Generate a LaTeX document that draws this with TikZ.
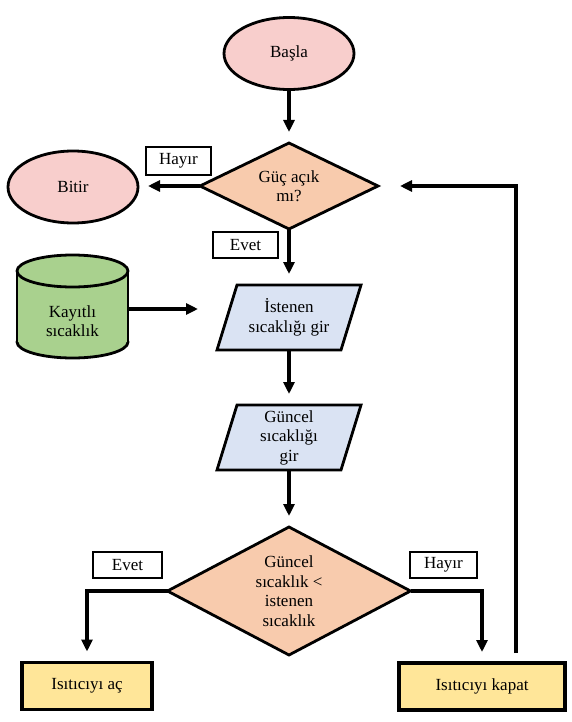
\documentclass[tikz,border=0pt]{standalone}
\usepackage{fontspec}
\setmainfont{Liberation Serif}
\usetikzlibrary{shapes.geometric,arrows.meta,calc}
\definecolor{termpink}{HTML}{F8CECC}
\definecolor{decorange}{HTML}{F8CBAD}
\definecolor{ioblue}{HTML}{DAE3F3}
\definecolor{cylgreen}{HTML}{A9D18E}
\definecolor{procyellow}{HTML}{FFE699}
\begin{document}
\begin{tikzpicture}[x=1pt,y=-1pt,
  every node/.style={font=\fontsize{17}{19.5}\selectfont, align=center, inner sep=0pt, outer sep=0pt},
  term/.style={ellipse, draw, line width=2.8pt, fill=termpink, minimum width=130pt, minimum height=72pt},
  dec/.style={diamond, draw, line width=2.8pt, fill=decorange},
  iobox/.style={minimum width=144pt, minimum height=65pt},
  iofill/.style={draw, line width=2.8pt, fill=ioblue, line join=miter},
  proc/.style={rectangle, draw, line width=3.5pt, fill=procyellow, minimum height=47pt},
  lbl/.style={rectangle, draw, line width=2.8pt, fill=white, minimum height=26pt},
  conn/.style={line width=3.8pt, -{Triangle[length=12pt,width=11pt]}, shorten >=11pt},
  cylshape/.style={line width=2.8pt},
]
\useasboundingbox (0,0) rectangle (572,722);

% terminals and decisions
\node[term] (start) at (289,53.5) {Başla};
\node[dec, aspect=2.07, minimum width=178pt, minimum height=86pt] (d1) at (289,186) {Güç açık\\mı?};
\node[term] (end) at (73,187) {Bitir};

% parallelograms
\node[iobox] (p1) at (289,317.5) {};
\path[iofill] ($(p1.north west)+(20,0)$) -- (p1.north east) -- ($(p1.south east)-(20,0)$) -- (p1.south west) -- cycle;
\node (p1t) at (p1.center) {İstenen\\sıcaklığı gir};
\node[iobox] (p2) at (289,437.5) {};
\path[iofill] ($(p2.north west)+(20,0)$) -- (p2.north east) -- ($(p2.south east)-(20,0)$) -- (p2.south west) -- cycle;
\node (p2t) at (p2.center) {Güncel\\sıcaklığı\\gir};

% cylinder
\filldraw[cylshape, fill=cylgreen] (72.5,342) ellipse (55.5 and 16);
\fill[cylgreen] (17,271) rectangle (128,342);
\draw[cylshape] (17,271) -- (17,342);
\draw[cylshape] (128,271) -- (128,342);
\filldraw[cylshape, fill=cylgreen] (72.5,271) ellipse (55.5 and 16);
\node[minimum width=111pt, minimum height=40pt] (cyl) at (72.5,309) {};
\node (cylt) at (72.5,321) {Kayıtlı\\sıcaklık};
\coordinate (cylin) at (198,309);

% second decision and processes
\node[dec, aspect=1.9, minimum width=243pt, minimum height=128pt] (d2) at (289,591) {Güncel\\sıcaklık <\\istenen\\sıcaklık};
\node[proc, minimum width=130pt] (on) at (87,686) {Isıtıcıyı aç};
\node[proc, minimum width=166pt] (off) at (482,686.5) {Isıtıcıyı kapat};

% connectors
\draw[conn] (start.south) -- (d1.north);
\draw[conn, shorten >=10pt] (d1.west) -- (d1.west -| end.east);
\draw[conn] (d1.south) -- (p1.north);
\draw[conn, shorten >=0pt] (cyl.east) -- (cylin);
\draw[conn] (p1.south) -- (p2.north);
\draw[conn] (p2.south) -- (d2.north);
\draw[conn] (d2.west) -| (on.north);
\draw[conn] (d2.east) -| (off.north);
\draw[conn, shorten <=10pt, shorten >=22pt] ([xshift=34pt]off.north) |- (d1.east);

% labels
\node[lbl, minimum width=65pt, minimum height=28pt] (no1) at (178.5,161) {Hayır};
\node[lbl, minimum width=65pt] (yes1) at (245.5,245) {Evet};
\node[lbl, minimum width=69pt] (yes2) at (127.5,565) {Evet};
\node[lbl, minimum width=67pt] (no2) at (443.5,565) {Hayır};
\end{tikzpicture}
\end{document}
